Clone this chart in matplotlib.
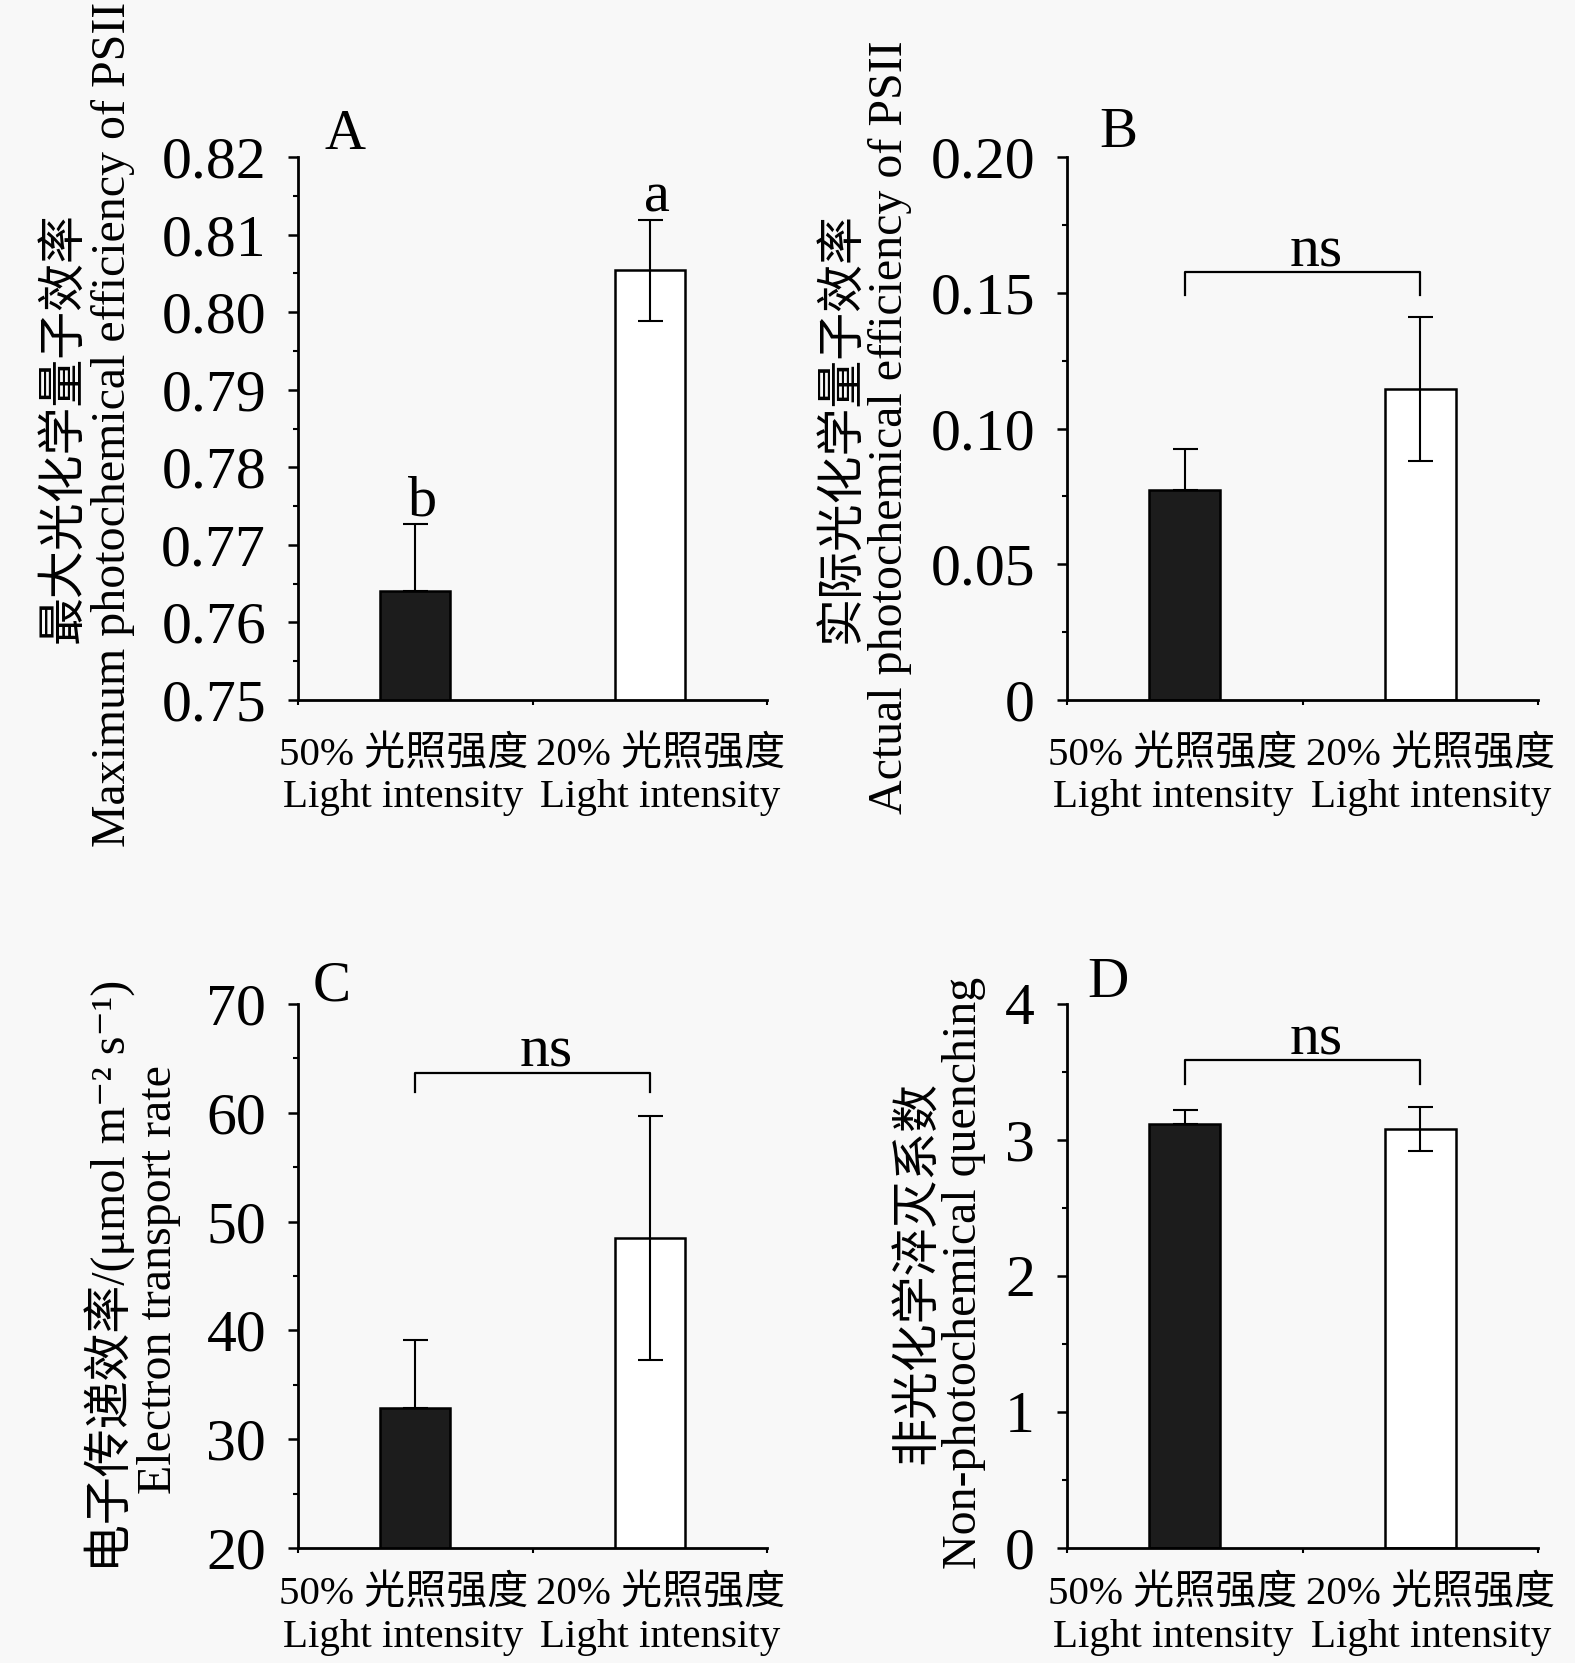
import matplotlib
matplotlib.use('Agg')
import matplotlib.pyplot as plt
from matplotlib.transforms import blended_transform_factory
from matplotlib.ticker import FixedLocator, FixedFormatter, MultipleLocator

plt.rcParams['font.family'] = ['Liberation Serif', 'Noto Sans CJK SC', 'DejaVu Serif']

# ---------------- data ----------------
group_cn = ['50% 光照强度', '20% 光照强度']
group_en = ['Light intensity', 'Light intensity']
bar_colors = ['#1c1c1c', '#ffffff']
show_lower_err = [False, True]   # lower whisker is hidden inside the black bar

fvfm_mean = [0.7641, 0.8054]
fvfm_err = [0.0086, 0.0065]
fvfm_letters = ['b', 'a']

phi_mean = [0.0773, 0.1145]
phi_err = [0.0153, 0.0265]

etr_mean = [32.9, 48.5]
etr_err = [6.2, 11.2]

npq_mean = [3.12, 3.08]
npq_err = [0.10, 0.16]

# significance bracket (top, leg end) in data units
phi_bracket = [0.1578, 0.1492]
etr_bracket = [63.7, 61.9]
npq_bracket = [3.59, 3.41]

ylab_cn = ['最大光化学量子效率', '实际光化学量子效率',
           '电子传递效率/(μmol m⁻² s⁻¹)', '非光化学淬灭系数']
ylab_en = ['Maximum photochemical efficiency of PSII',
           'Actual photochemical efficiency of PSII',
           'Electron transport rate', 'Non-photochemical quenching']

ytick_A = ['0.75', '0.76', '0.77', '0.78', '0.79', '0.80', '0.81', '0.82']
ytick_B = ['0', '0.05', '0.10', '0.15', '0.20']
ytick_C = ['20', '30', '40', '50', '60', '70']
ytick_D = ['0', '1', '2', '3', '4']
panel_letters = ['A', 'B', 'C', 'D']

# ---------------- figure ----------------
W, H = 1575, 1663
fig = plt.figure(figsize=(W / 100, H / 100), dpi=100)
bg = '#f8f8f8'
fig.patch.set_facecolor(bg)

pos = {
    'A': [298 / W, 1 - 700 / H, 469 / W, 543 / H],
    'B': [1067 / W, 1 - 700 / H, 471 / W, 543 / H],
    'C': [298 / W, 1 - 1548 / H, 469 / W, 544 / H],
    'D': [1067 / W, 1 - 1548 / H, 471 / W, 544 / H],
}

x = [0.5, 1.5]

specs = [
    ('A', fvfm_mean, fvfm_err, (0.75, 0.82), [0.75 + 0.01 * i for i in range(8)], ytick_A, 0.005, None),
    ('B', phi_mean, phi_err, (0.0, 0.20), [0.05 * i for i in range(5)], ytick_B, 0.025, phi_bracket),
    ('C', etr_mean, etr_err, (20, 70), [20 + 10 * i for i in range(6)], ytick_C, 5, etr_bracket),
    ('D', npq_mean, npq_err, (0, 4), [0, 1, 2, 3, 4], ytick_D, 0.5, npq_bracket),
]

letter_pos = {'A': (0.10, 1.040), 'B': (0.11, 1.045), 'C': (0.072, 1.033), 'D': (0.087, 1.038)}
ylab_pos = {
    'A': (64 / W, 113 / W, 1 - 428 / H, 1 - 424 / H),
    'B': (842 / W, 890 / W, 1 - 428 / H, 1 - 427 / H),
    'C': (110 / W, 159 / W, 1 - 1276 / H, 1 - 1280 / H),
    'D': (918 / W, 964 / W, 1 - 1273 / H, 1 - 1273 / H),
}
xlab_y = {'A': (1 - 755 / H, 1 - 797 / H), 'B': (1 - 755 / H, 1 - 797 / H),
          'C': (1 - 1594 / H, 1 - 1637 / H), 'D': (1 - 1594 / H, 1 - 1637 / H)}

for i, (name, mean, err, ylim, yt, ytl, minor, bracket) in enumerate(specs):
    ax = fig.add_axes(pos[name])
    ax.set_facecolor(bg)
    ax.bar(x, mean, width=0.30, color=bar_colors, edgecolor='black', linewidth=1.8, zorder=2)
    lower = [e if s else 0 for e, s in zip(err, show_lower_err)]
    ax.errorbar(x, mean, yerr=[lower, err], fmt='none', ecolor='black', elinewidth=1.5,
                capsize=9, capthick=1.5, zorder=3)
    ax.set_xlim(0, 2)
    ax.set_ylim(*ylim)
    for s in ['top', 'right']:
        ax.spines[s].set_visible(False)
    for s in ['left', 'bottom']:
        ax.spines[s].set_linewidth(2.0)
    ax.yaxis.set_major_locator(FixedLocator(yt))
    ax.yaxis.set_major_formatter(FixedFormatter(ytl))
    ax.yaxis.set_minor_locator(MultipleLocator(minor))
    ax.tick_params(axis='y', which='major', direction='out', length=7, width=1.8,
                   labelsize=43, pad=16)
    ax.tick_params(axis='y', which='minor', direction='out', length=3.5, width=1.5)
    ax.xaxis.set_major_locator(FixedLocator([0, 1, 2]))
    ax.tick_params(axis='x', which='major', direction='out', length=3.5, width=1.5,
                   labelbottom=False)

    tr = blended_transform_factory(ax.transData, fig.transFigure)
    for xi, cn, en in zip([0.45, 1.545], group_cn, group_en):
        ax.text(xi, xlab_y[name][0], cn, transform=tr, ha='center', va='center', fontsize=29.5)
        ax.text(xi, xlab_y[name][1], en, transform=tr, ha='center', va='center', fontsize=29.5)

    cx, ex, cy, ey = ylab_pos[name]
    fig.text(cx, cy, ylab_cn[i], rotation=90, ha='center', va='center', fontsize=34.5)
    fig.text(ex, ey, ylab_en[i], rotation=90, ha='center', va='center', fontsize=34.5)

    lx, ly = letter_pos[name]
    ax.text(lx, ly, panel_letters[i], transform=ax.transAxes, ha='center', va='center',
            fontsize=41)

    if name == 'A':
        for xi, m, e, lt in zip([0.53, 1.53], mean, err, fvfm_letters):
            ax.annotate(lt, xy=(xi, m + e), xytext=(0, 6), textcoords='offset points',
                        ha='center', va='baseline', fontsize=42, annotation_clip=False)
    else:
        top, leg = bracket
        ax.plot([x[0], x[0], x[1], x[1]], [leg, top, top, leg], color='black',
                linewidth=1.6, clip_on=False, zorder=3)
        ax.annotate('ns', xy=(1.06, top), xytext=(0, 4), textcoords='offset points',
                    ha='center', va='baseline', fontsize=43, annotation_clip=False)

fig.savefig('out.png', dpi=100, facecolor=bg)
